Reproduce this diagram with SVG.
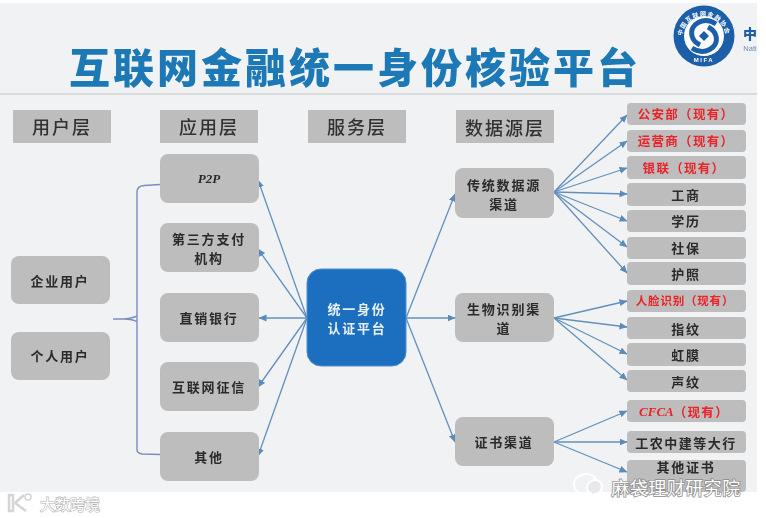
<svg xmlns="http://www.w3.org/2000/svg" width="766" height="518" viewBox="0 0 766 518">
<style>
text{font-family:"Noto Sans CJK SC","Liberation Sans",sans-serif;text-anchor:middle;dominant-baseline:central}
.b{fill:#bdbdbe}
.h{font-size:18px;font-weight:500;fill:#303030;letter-spacing:2px}
.s{font-size:13px;font-weight:700;fill:#2b2b2b;letter-spacing:1.800px}
.r{font-size:12.500px;font-weight:700;fill:#ec2027;letter-spacing:1.300px}
.i{font-family:"Liberation Serif",serif;font-style:italic;letter-spacing:0}
.c{stroke:#6290bd;stroke-width:1.300;fill:none;marker-end:url(#a)}
</style>
<defs>
<marker id="a" markerWidth="9" markerHeight="8" refX="7.500" refY="3.500" orient="auto" markerUnits="userSpaceOnUse"><path d="M0 0L8 3.500L0 7Z" fill="#5b8bb8"/></marker>
<filter id="soft" x="-2%" y="-2%" width="104%" height="104%"><feGaussianBlur stdDeviation=".45"/></filter>
<path id="ring" d="M679 38A25 25 0 0 1 729 38"/>
</defs>
<rect width="766" height="518" fill="#fff"/>
<g filter="url(#soft)">
<rect x="0" y="3" width="757" height="489" fill="#f1f2f4"/>
<path d="M0 94H757" stroke="#c4c5c7" stroke-width="1"/>
<text x="355" y="65" fill="#1b79b6" style="letter-spacing:3px;font-size:41px;font-weight:900">互联网金融统一身份核验平台</text>
<g id="logo">
<circle cx="704" cy="36" r="30.500" fill="#1d5fa8"/>
<circle cx="704" cy="36" r="20" fill="#fff"/>
<path d="M716 24C704 16 689 24 692 36C693 40 696 43 700 45M692 48C704 56 719 48 716 36C715 32 712 29 708 27" fill="none" stroke="#1d5fa8" stroke-width="5"/>
<path d="M704 31L709 36L704 41L699 36Z" fill="#1d5fa8"/>
<text fill="#fff" style="font-size:6px;font-weight:700;letter-spacing:2px"><textPath href="#ring" startOffset="50%">中国互联网金融协会</textPath></text>
<text x="704" y="60" fill="#fff" style="font-size:6px;font-weight:700;letter-spacing:1.500px;font-family:'Liberation Sans',sans-serif">MIFA</text>
<text x="750" y="33" fill="#1d5fa8" style="font-size:14px;font-weight:900">中</text>
<text x="750" y="48" fill="#6d8fb0" style="font-size:7.500px;font-family:'Liberation Sans',sans-serif">Nati</text>
</g>
<g id="layer-user"><rect class="b" x="13" y="110" width="98" height="33"/><text class="h" x="62" y="126">用户层</text></g>
<g id="layer-app"><rect class="b" x="160" y="110" width="98" height="33"/><text class="h" x="209" y="126">应用层</text></g>
<g id="layer-service"><rect class="b" x="308" y="110" width="98" height="33"/><text class="h" x="357" y="126">服务层</text></g>
<g id="layer-data"><rect class="b" x="456" y="110" width="98" height="33"/><text class="h" x="505" y="127">数据源层</text></g>

<g id="connectors">
<path d="M113 319H124Q133 319 137 322M137 316Q133 318 124 319M137 192Q137 186 144 185.500L160 184.500M137 192V450Q137 453 142 454L160 454.500" stroke="#7a8dc0" stroke-width="1.400" fill="none"/>
<path class="c" d="M307 318L258 180"/>
<path class="c" d="M307 318L258 249"/>
<path class="c" d="M307 318H259"/>
<path class="c" d="M307 318L258 387"/>
<path class="c" d="M307 318L258 456"/>
<path class="c" d="M406 318L455 194"/>
<path class="c" d="M406 318H455"/>
<path class="c" d="M406 318L455 442"/>
<path class="c" d="M554 192L627 115"/>
<path class="c" d="M554 192L627 141"/>
<path class="c" d="M554 192L627 168"/>
<path class="c" d="M554 192L627 194"/>
<path class="c" d="M554 192L627 221"/>
<path class="c" d="M554 192L627 247"/>
<path class="c" d="M554 192L627 273"/>
<path class="c" d="M554 318L627 301"/>
<path class="c" d="M554 318L627 327"/>
<path class="c" d="M554 318L627 354"/>
<path class="c" d="M554 318L627 380"/>
<path class="c" d="M554 442L627 411"/>
<path class="c" d="M554 442H627"/>
<path class="c" d="M554 442L627 472"/>
</g>

<g id="user-enterprise"><rect class="b" x="11" y="256" width="99" height="48" rx="8"/><text class="s" x="60" y="280">企业用户</text></g>
<g id="user-personal"><rect class="b" x="11" y="332" width="99" height="48" rx="8"/><text class="s" x="60" y="355">个人用户</text></g>

<g id="app-p2p"><rect class="b" x="160" y="154" width="99" height="49" rx="8"/><text class="s i" x="209" y="178">P2P</text></g>
<g id="app-pay"><rect class="b" x="160" y="223" width="99" height="49" rx="8"/><text class="s" x="209" y="238">第三方支付</text><text class="s" x="209" y="257">机构</text></g>
<g id="app-bank"><rect class="b" x="160" y="293" width="99" height="49" rx="8"/><text class="s" x="209" y="317">直销银行</text></g>
<g id="app-credit"><rect class="b" x="160" y="362" width="99" height="49" rx="8"/><text class="s" x="209" y="386">互联网征信</text></g>
<g id="app-other"><rect class="b" x="160" y="432" width="99" height="49" rx="8"/><text class="s" x="209" y="456">其他</text></g>

<g id="core"><rect x="307" y="269" width="99" height="97" rx="14" fill="#1c6ebf" stroke="#4e8fce" stroke-width="1"/><text class="s" x="357" y="308" style="fill:#e8f0f8">统一身份</text><text class="s" x="357" y="327" style="fill:#e8f0f8">认证平台</text></g>

<g id="src-trad"><rect class="b" x="455" y="168" width="99" height="50" rx="8"/><text class="s" x="504" y="184">传统数据源</text><text class="s" x="504" y="203">渠道</text></g>
<g id="src-bio"><rect class="b" x="455" y="293" width="99" height="49" rx="8"/><text class="s" x="504" y="308">生物识别渠</text><text class="s" x="504" y="327">道</text></g>
<g id="src-cert"><rect class="b" x="455" y="417" width="99" height="49" rx="8"/><text class="s" x="504" y="441">证书渠道</text></g>

<g id="d1"><rect class="b" x="627" y="103" width="119" height="22" rx="4"/><text class="r" x="686" y="113">公安部（现有）</text></g>
<g id="d2"><rect class="b" x="627" y="130" width="119" height="22" rx="4"/><text class="r" x="686" y="140">运营商（现有）</text></g>
<g id="d3"><rect class="b" x="627" y="156" width="119" height="23" rx="4"/><text class="r" x="684" y="167">银联（现有）</text></g>
<g id="d4"><rect class="b" x="627" y="183" width="119" height="23" rx="4"/><text class="s" x="686" y="194">工商</text></g>
<g id="d5"><rect class="b" x="627" y="210" width="119" height="22" rx="4"/><text class="s" x="686" y="220">学历</text></g>
<g id="d6"><rect class="b" x="627" y="237" width="119" height="22" rx="4"/><text class="s" x="686" y="247">社保</text></g>
<g id="d7"><rect class="b" x="627" y="262" width="119" height="23" rx="4"/><text class="s" x="686" y="273">护照</text></g>
<g id="d8"><rect class="b" x="627" y="290" width="119" height="22" rx="4"/><text class="r" x="685" y="300" style="font-size:11.500px;letter-spacing:.8px">人脸识别（现有）</text></g>
<g id="d9"><rect class="b" x="627" y="317" width="119" height="22" rx="4"/><text class="s" x="686" y="328">指纹</text></g>
<g id="d10"><rect class="b" x="627" y="343" width="119" height="23" rx="4"/><text class="s" x="686" y="354">虹膜</text></g>
<g id="d11"><rect class="b" x="627" y="370" width="119" height="22" rx="4"/><text class="s" x="686" y="381">声纹</text></g>
<g id="d12"><rect class="b" x="627" y="400" width="119" height="22" rx="4"/><text class="r" x="684" y="411"><tspan class="i" style="font-size:13px">CFCA</tspan>（现有）</text></g>
<g id="d13"><rect class="b" x="627" y="431" width="119" height="22" rx="4"/><text class="s" x="686" y="442" style="letter-spacing:1.500px">工农中建等大行</text></g>
<g id="d14"><rect class="b" x="627" y="460" width="119" height="32" rx="4"/><text class="s" x="686" y="466">其他证书</text></g>
</g>
<g id="watermark">
<path d="M574 484c0-6 6-10 12-10s11 4 11 9c0 6-5 10-11 10l-4 0l-4 3l0-4c-3-2-4-5-4-8Z" fill="none" stroke="#fff" stroke-width="2"/>
<path d="M587 487c0-4 4-7 8-7s7 3 7 7-3 7-7 7l-3 2-1-3c-3-1-4-3-4-6Z" fill="#e8e9eb" stroke="#fff" stroke-width="2"/>
<text x="676" y="487" fill="#fff" stroke="#8a8a8a" stroke-width="1.600" style="font-size:18px;font-weight:400;letter-spacing:.5px;paint-order:stroke">麻袋理财研究院</text>
<path d="M9 495V511H13V495ZM15 503L24 495M15 503L26 511" fill="none" stroke="#d5d5d5" stroke-width="2.500"/>
<circle cx="28" cy="497" r="3" fill="none" stroke="#d5d5d5" stroke-width="1.500"/>
<text x="70" y="503" fill="#fff" stroke="#b5b5b5" stroke-width="1.200" style="font-size:15px;paint-order:stroke">大数跨境</text>
</g>
</svg>
